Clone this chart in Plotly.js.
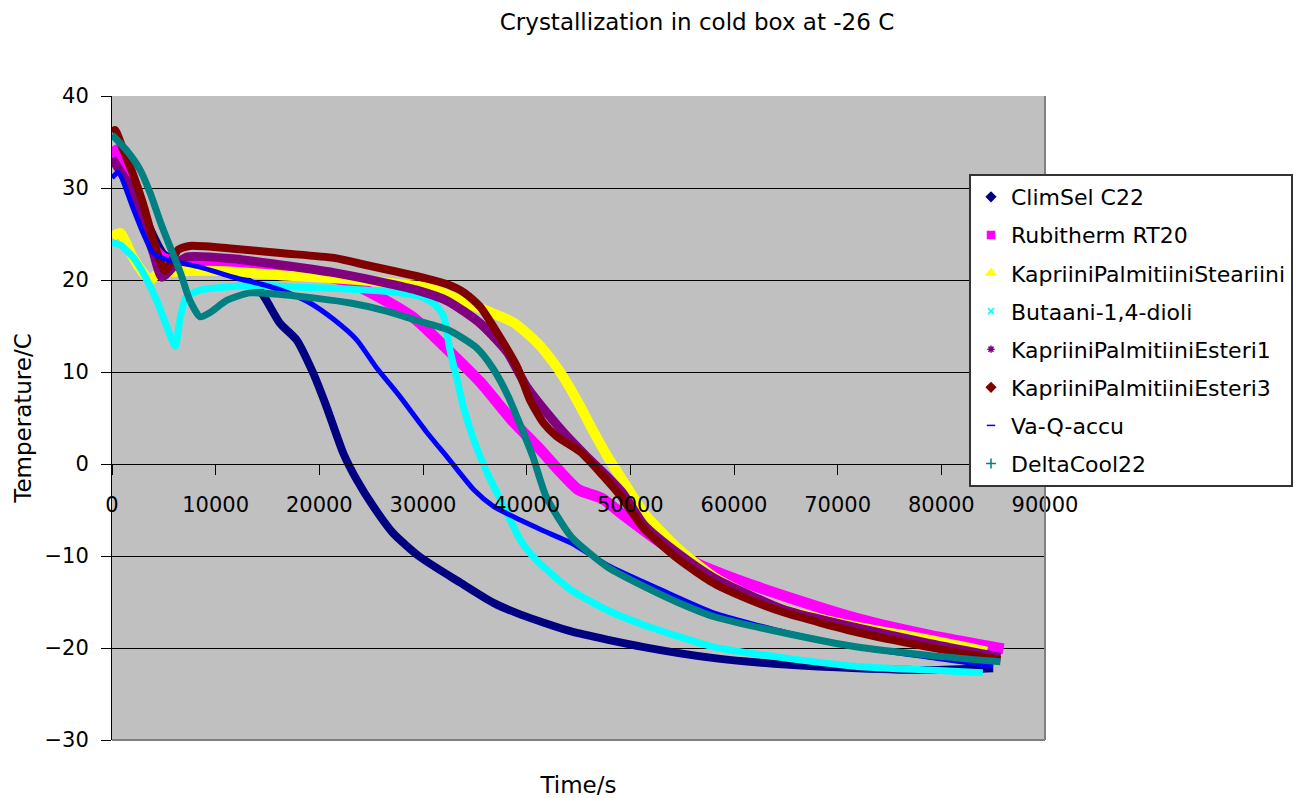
<!DOCTYPE html>
<html>
<head>
<meta charset="utf-8">
<script src="https://cdn.plot.ly/plotly-3.0.1.min.js"></script>
<style>
  html, body { margin: 0; padding: 0; background: #ffffff; }
  #chart { width: 1307px; height: 798px; }
</style>
</head>
<body>
<div id="chart"></div>
<script>
// Cooling curves of phase-change materials in a cold box (-26 C)
// time in seconds, temperature in degrees C

const climselT = [0, 600, 2000, 3500, 5000, 7000, 10000, 12500, 14300, 16200, 17800, 19400, 20700, 22300, 23600, 25200, 27100, 29700, 33600, 36800, 39500, 44300, 51300, 58100, 65000, 71900, 78800, 85000];
const climselY = [33.5, 33.0, 29.5, 26.0, 22.8, 21.8, 21.0, 20.3, 18.8, 15.3, 13.5, 9.9, 6.2, 1.2, -1.7, -4.6, -7.5, -10.1, -12.9, -15.1, -16.4, -18.2, -19.9, -21.1, -21.8, -22.2, -22.4, -22.2];

const rubithermT = [0, 1400, 2700, 4000, 4800, 6900, 11700, 16500, 21400, 23000, 26000, 29200, 32400, 35600, 38700, 41200, 43200, 45000, 47200, 49500, 53000, 56400, 59900, 65000, 71900, 78800, 86000];
const rubithermY = [34.5, 31.6, 27.6, 23.6, 22.5, 21.8, 21.4, 20.9, 20.2, 19.7, 18.0, 15.8, 12.4, 8.8, 4.6, 1.7, -0.8, -2.8, -3.7, -5.7, -8.6, -10.8, -12.4, -14.4, -16.8, -18.6, -20.1];

const steariiniT = [0, 800, 2000, 3000, 3700, 4300, 6200, 8500, 11700, 16500, 21400, 25900, 30700, 34200, 36500, 38700, 41000, 42600, 43900, 45200, 46500, 47800, 49400, 51300, 54700, 58100, 61600, 65000, 71900, 78800, 84400];
const steariiniY = [24.7, 25.1, 22.5, 20.8, 20.0, 20.6, 20.9, 21.0, 20.9, 20.5, 20.2, 19.8, 19.1, 17.5, 16.5, 15.4, 13.2, 11.0, 8.8, 6.2, 3.4, 0.8, -2.0, -5.3, -9.3, -12.3, -14.4, -15.9, -17.7, -19.1, -20.4];

const butaaniT = [0, 800, 2000, 3000, 4300, 5300, 6100, 6600, 7200, 8500, 11700, 14900, 18100, 21400, 24600, 27800, 30000, 31200, 32000, 32600, 33300, 33900, 34900, 36200, 37800, 39400, 40900, 44300, 47800, 51300, 58100, 65000, 71900, 78800, 84000];
const butaaniY = [24.1, 23.8, 22.5, 20.8, 17.8, 14.9, 12.8, 16.0, 18.2, 18.9, 19.3, 19.4, 19.2, 19.1, 18.9, 18.6, 18.1, 17.3, 16.0, 12.4, 9.1, 6.2, 2.6, -1.0, -4.6, -8.3, -10.4, -13.7, -15.9, -17.5, -19.9, -21.1, -22.0, -22.4, -22.7];

const esteri1T = [0, 1700, 3000, 4000, 4800, 5900, 7200, 11700, 16500, 21400, 25900, 29400, 32400, 35500, 38100, 40000, 42000, 43900, 45800, 47800, 49300, 51300, 54700, 58100, 65000, 71900, 78800, 85700];
const esteri1Y = [33.2, 30.1, 26.2, 22.9, 20.3, 21.4, 22.5, 22.3, 21.6, 20.8, 19.8, 18.9, 17.7, 15.3, 12.2, 8.4, 5.5, 3.0, 0.8, -1.4, -3.2, -6.6, -9.8, -12.4, -15.9, -17.8, -19.5, -21.0];

const esteri3T = [0, 300, 1100, 2000, 3000, 3800, 4500, 5100, 5700, 6400, 7500, 11700, 16500, 21400, 24600, 27500, 30200, 32400, 34000, 35500, 37300, 39100, 40300, 41600, 42900, 45200, 47300, 49000, 51300, 54700, 58100, 61600, 65000, 71900, 78800, 85700];
const esteri3Y = [36.1, 36.3, 34.1, 31.6, 28.3, 25.1, 22.5, 21.0, 22.0, 23.3, 23.7, 23.4, 22.9, 22.4, 21.6, 20.9, 20.2, 19.5, 18.6, 17.1, 14.0, 10.5, 7.0, 4.5, 3.0, 1.3, -1.2, -3.4, -7.0, -10.4, -13.0, -14.8, -16.2, -18.3, -19.9, -21.3];

const vaqT = [0, 600, 2000, 3000, 4000, 5300, 8500, 11700, 14900, 17000, 19100, 21400, 23600, 25500, 27800, 30400, 32300, 34900, 36800, 39400, 41500, 44300, 47800, 53000, 58100, 65000, 71900, 78800, 85000];
const vaqY = [31.1, 31.7, 27.9, 25.1, 22.9, 22.2, 21.4, 20.3, 19.4, 18.6, 17.5, 15.7, 13.5, 10.5, 7.3, 3.4, 0.8, -2.8, -4.6, -6.1, -7.2, -8.6, -11.0, -13.7, -16.2, -18.3, -19.9, -21.0, -22.0];

const deltaT = [0, 1400, 2700, 3700, 4600, 5600, 6600, 7500, 8500, 9500, 11100, 13300, 16500, 19800, 23000, 26200, 29400, 32400, 35200, 36800, 38200, 39400, 40600, 41900, 44300, 47800, 51300, 54700, 58100, 65000, 71900, 78800, 85700];
const deltaY = [35.8, 34.1, 32.0, 29.4, 26.5, 23.6, 20.8, 17.8, 16.0, 16.5, 17.8, 18.6, 18.4, 18.0, 17.5, 16.7, 15.6, 14.6, 12.6, 10.3, 7.4, 4.2, 0.8, -3.6, -7.9, -11.2, -13.3, -15.1, -16.6, -18.4, -19.9, -20.8, -21.5];

const seriesNames = ['ClimSel C22', 'Rubitherm RT20', 'KapriiniPalmitiiniSteariini', 'Butaani-1,4-dioli',
                     'KapriiniPalmitiiniEsteri1', 'KapriiniPalmitiiniEsteri3', 'Va-Q-accu', 'DeltaCool22'];
const seriesT = [climselT, rubithermT, steariiniT, butaaniT, esteri1T, esteri3T, vaqT, deltaT];
const seriesY = [climselY, rubithermY, steariiniY, butaaniY, esteri1Y, esteri3Y, vaqY, deltaY];

const colors = ['#000080', '#FF00FF', '#FFFF00', '#00FFFF', '#800080', '#800000', '#0000FF', '#008080'];
const widths = [8, 11, 10, 7, 9, 8, 5, 7];
const symbols = ['diamond', 'square', 'triangle-up', 'x-thin-open', 'asterisk-open', 'diamond', 'line-ew-open', 'cross-thin-open'];
const symbolSizes = [7, 7, 8, 6, 6, 7, 6, 7];

const FONT = 'DejaVu Sans, Verdana, sans-serif';
const traces = [];

// measured curves on the time axis that crosses at 0 C (drawn in order, last on top)
seriesNames.forEach((name, i) => {
  traces.push({
    type: 'scatter', mode: 'lines', name: name,
    x: seriesT[i], y: seriesY[i], xaxis: 'x2', yaxis: 'y',
    line: { color: colors[i], width: widths[i], shape: 'spline', smoothing: 0.6 },
    showlegend: false, hoverinfo: 'x+y+name'
  });
});

// legend keys with the marker symbols
seriesNames.forEach((name, i) => {
  traces.push({
    type: 'scatter', mode: 'markers', name: name,
    x: [null], y: [null], xaxis: 'x', yaxis: 'y', legendgroup: 'g' + i,
    marker: { symbol: symbols[i], size: symbolSizes[i], color: colors[i],
              line: { color: colors[i], width: 1.5 } },
    showlegend: true
  });
});

const layout = {
  width: 1307, height: 798,
  margin: { l: 112, r: 262, t: 96, b: 58, pad: 0, autoexpand: false },
  paper_bgcolor: '#ffffff',
  plot_bgcolor: '#C0C0C0',
  font: { family: FONT, color: '#000000', size: 21 },
  title: {
    text: 'Crystallization in cold box at -26 C',
    font: { family: FONT, size: 23, color: '#000000' },
    xref: 'container', yref: 'container',
    x: 697 / 1307, xanchor: 'center',
    y: 1 - 22 / 798, yanchor: 'middle'
  },
  xaxis: {
    range: [0, 90000],
    showgrid: false, zeroline: false, showline: false,
    ticks: '', showticklabels: false,
    title: { text: 'Time/s', font: { family: FONT, size: 23 }, standoff: 37 }
  },
  xaxis2: {
    overlaying: 'x', range: [0, 90000],
    anchor: 'free', position: 3 / 7,
    showgrid: false, zeroline: false,
    showline: true, linecolor: '#000000', linewidth: 1,
    ticks: 'outside', ticklen: 10, tickwidth: 1, tickcolor: '#000000',
    dtick: 10000, tick0: 0, tickformat: 'd',
    tickfont: { family: FONT, size: 21, color: '#000000' },
    ticklabelstandoff: 12
  },
  yaxis: {
    range: [-30, 40], dtick: 10, tick0: 0,
    showgrid: true, gridcolor: '#000000', gridwidth: 1,
    zeroline: false,
    showline: true, linecolor: '#000000', linewidth: 1,
    ticks: 'outside', ticklen: 10, tickwidth: 1, tickcolor: '#000000',
    tickfont: { family: FONT, size: 21, color: '#000000' },
    ticklabelstandoff: 8,
    title: { text: 'Temperature/C', font: { family: FONT, size: 23 }, standoff: 6 }
  },
  legend: {
    xref: 'container', yref: 'container',
    x: 969 / 1307, xanchor: 'left',
    y: 1 - 174 / 798, yanchor: 'top',
    bgcolor: '#ffffff', bordercolor: '#333333', borderwidth: 2,
    font: { family: FONT, size: 22, color: '#000000' },
    traceorder: 'grouped', tracegroupgap: 6.5
  },
  shapes: [
    { type: 'line', xref: 'paper', yref: 'paper', x0: 1, x1: 1, y0: 0, y1: 1,
      line: { color: '#808080', width: 2 }, layer: 'above' },
    { type: 'line', xref: 'paper', yref: 'paper', x0: 0, x1: 1, y0: 0, y1: 0,
      line: { color: '#808080', width: 2 }, layer: 'above' }
  ],
  showlegend: true
};

Plotly.newPlot('chart', traces, layout, { displayModeBar: false, staticPlot: true });
</script>
</body>
</html>
